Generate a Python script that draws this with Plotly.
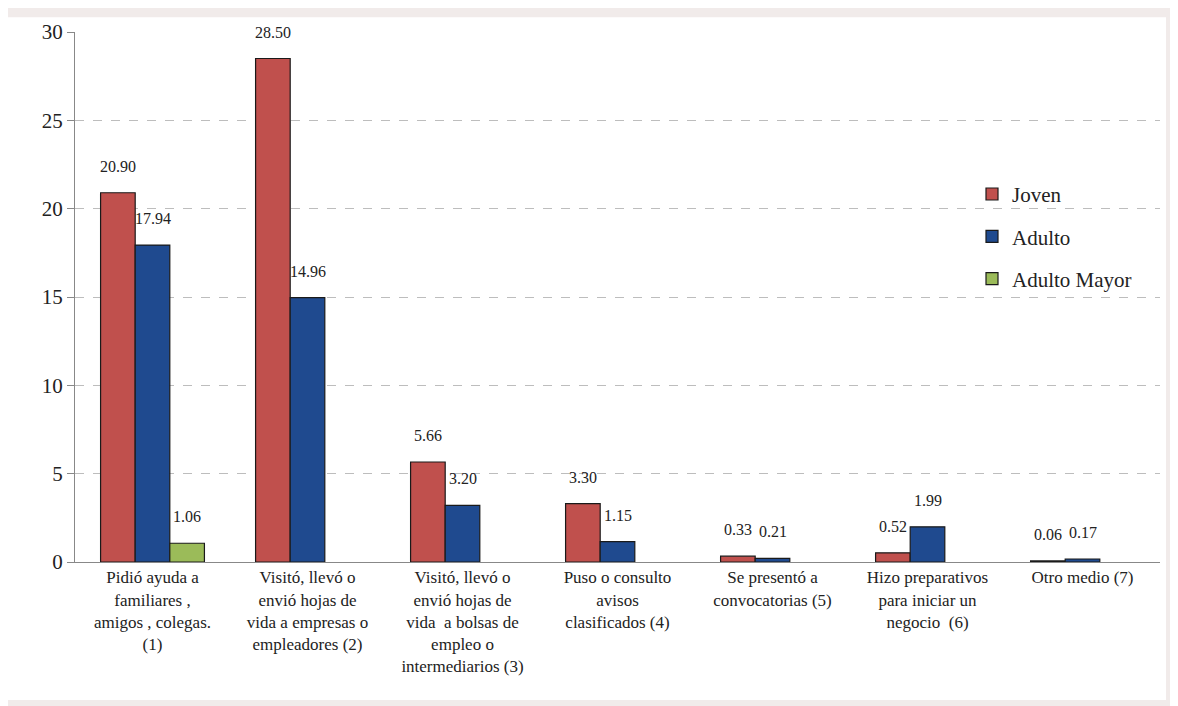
import plotly.graph_objects as go

categories = [
    "Pidió ayuda a<br>familiares ,<br>amigos , colegas.<br>(1)",
    "Visitó, llevó o<br>envió hojas de<br>vida a empresas o<br>empleadores (2)",
    "Visitó, llevó o<br>envió hojas de<br>vida  a bolsas de<br>empleo o<br>intermediarios (3)",
    "Puso o consulto<br>avisos<br>clasificados (4)",
    "Se presentó a<br>convocatorias (5)",
    "Hizo preparativos<br>para iniciar un<br>negocio  (6)",
    "Otro medio (7)",
]
joven = [20.90, 28.50, 5.66, 3.30, 0.33, 0.52, 0.06]
adulto = [17.94, 14.96, 3.20, 1.15, 0.21, 1.99, 0.17]
adulto_mayor = [1.06, None, None, None, None, None, None]
y_ticks = [0, 5, 10, 15, 20, 25, 30]

font_family = "Liberation Serif, Times New Roman, serif"

series = [
    ("Joven", joven, "#C0504D"),
    ("Adulto", adulto, "#1F4A8F"),
    ("Adulto Mayor", adulto_mayor, "#9BBB59"),
]

# page body has an 8px offset
OFF = 8
W, H = 1178, 706
ml, mt = 75 - OFF, 24 - OFF
pw, ph = 1085, 538
mr = W - ml - pw
mb = H - mt - ph
bargap = 0.33
bar_px = (1 - bargap) / len(series) * pw / len(categories)

def px_x(p):
    return (p - OFF - ml) / pw

def px_y(p):
    return (mt + ph - (p - OFF)) / ph

fig = go.Figure()
for i, (name, vals, color) in enumerate(series):
    fig.add_trace(go.Bar(
        name=name,
        legendgroup=name,
        x=categories,
        y=vals,
        marker=dict(color=color, line=dict(color="#1a1a1a", width=1.2)),
    ))
    for cat, v in zip(categories, vals):
        if v is None:
            continue
        fig.add_annotation(
            x=cat, y=v, xref="x", yref="y",
            text=f"{v:.2f}", showarrow=False,
            xshift=(i - 1) * bar_px, yshift=16, yanchor="bottom",
            font=dict(family=font_family, size=16, color="#222222"),
        )

fig.add_shape(type="rect", xref="paper", yref="paper",
              x0=px_x(7), x1=px_x(1166), y0=px_y(702), y1=px_y(9),
              fillcolor="white", line=dict(width=0), layer="below")

fig.update_layout(
    width=W, height=H,
    margin=dict(l=ml, r=mr, t=mt, b=mb),
    paper_bgcolor="#f1ebea",
    plot_bgcolor="rgba(0,0,0,0)",
    barmode="group",
    bargap=bargap,
    bargroupgap=0,
    font=dict(family=font_family, size=16, color="#222222"),
    legend=dict(
        x=px_x(972), y=px_y(168), xanchor="left", yanchor="top",
        font=dict(family=font_family, size=21, color="#222222"),
        bgcolor="rgba(0,0,0,0)",
        itemwidth=30, tracegroupgap=12,
    ),
    xaxis=dict(
        showline=True, linecolor="#888888", linewidth=1,
        ticks="", tickfont=dict(family=font_family, size=17, color="#222222"),
        showgrid=False,
    ),
    yaxis=dict(
        range=[0, 30], tickvals=y_ticks,
        showline=True, linecolor="#888888", linewidth=1,
        ticks="outside", ticklen=7, tickcolor="#888888",
        tickfont=dict(family=font_family, size=21, color="#222222"),
        showgrid=True, gridcolor="#bdbdbd", griddash="dash", gridwidth=1,
        zeroline=False,
    ),
)

fig.write_html("out.html")
